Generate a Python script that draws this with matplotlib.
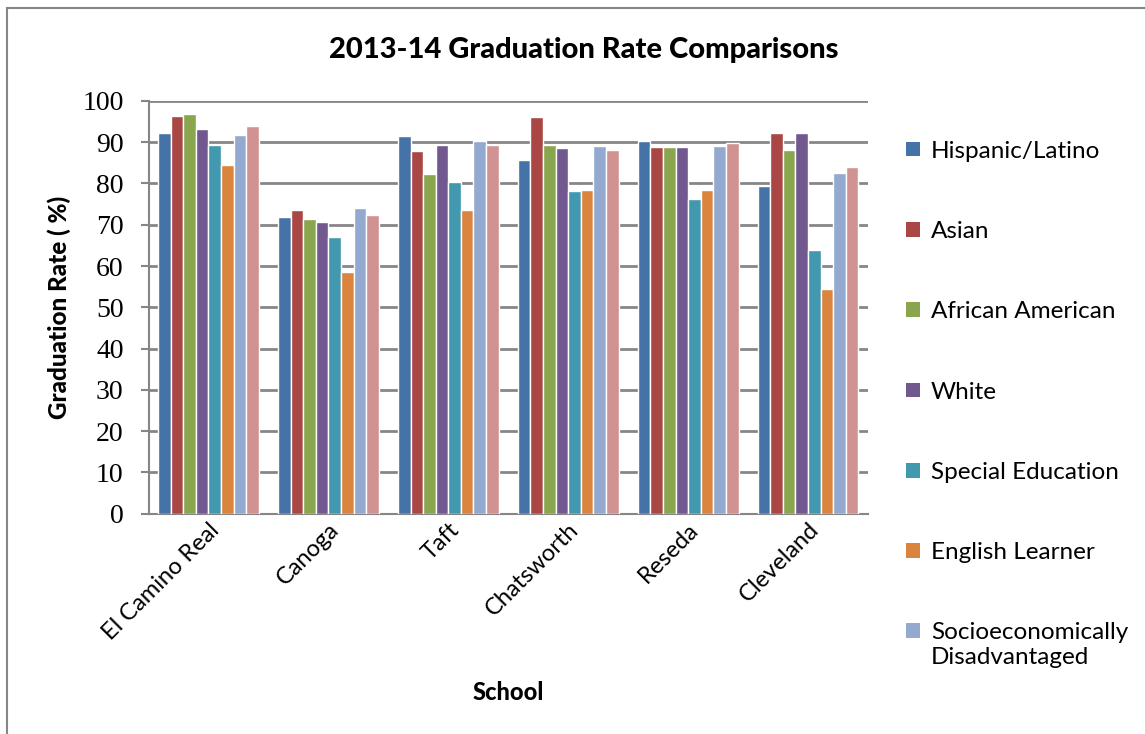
import numpy as np
import matplotlib.pyplot as plt
from matplotlib.patches import Rectangle
from matplotlib.legend_handler import HandlerPatch

# Date
schools = ['El Camino Real', 'Canoga', 'Taft', 'Chatsworth', 'Reseda', 'Cleveland']
groups = ['Hispanic/Latino', 'Asian', 'African American', 'White',
          'Special Education', 'English Learner',
          'Socioeconomically\nDisadvantaged', 'All Students']

hispanic = [92.2, 72.0, 91.6, 85.6, 90.2, 79.3]
asian = [96.3, 73.5, 87.9, 96.0, 88.8, 92.3]
african_american = [96.9, 71.3, 82.4, 89.4, 88.8, 88.0]
white = [93.3, 70.7, 89.3, 88.5, 88.9, 92.3]
special_ed = [89.4, 67.1, 80.3, 78.2, 76.2, 63.8]
english_learner = [84.5, 58.5, 73.6, 78.5, 78.5, 54.5]
socioeconomic = [91.7, 74.1, 90.3, 89.2, 89.1, 82.6]
all_students = [93.9, 72.4, 89.3, 88.2, 89.9, 84.0]

series = [hispanic, asian, african_american, white, special_ed,
          english_learner, socioeconomic, all_students]
colors = ['#4572A7', '#AA4643', '#89A54E', '#71588F',
          '#4198AF', '#DB843D', '#93A9CF', '#D19392']

fig = plt.figure(figsize=(11.45, 7.34), dpi=100)
ax = fig.add_axes([0.1297, 0.3004, 0.6284, 0.562])

# chenarul graficului
fig.patches.append(Rectangle((7 / 1145, -0.1), 1.2, 0.1 + 1 - 8 / 734,
                             transform=fig.transFigure, fill=False,
                             edgecolor='#868686', linewidth=1.5))

x = np.arange(len(schools))
w = 0.105
bars = []
for i, (vals, c) in enumerate(zip(series, colors)):
    b = ax.bar(x + (i - 3.5) * w, vals, w, color=c, edgecolor='white',
               linewidth=1.0, zorder=3)
    bars.append(b)

ax.set_xlim(-0.5, len(schools) - 0.5)
ax.set_ylim(0, 100)
ax.set_yticks(np.arange(0, 101, 10))
ax.yaxis.grid(True, color='#868686', linewidth=2, zorder=0)
ax.set_axisbelow(True)
for s in ['top', 'right']:
    ax.spines[s].set_visible(False)
ax.spines['left'].set_color('#868686')
ax.spines['bottom'].set_color('#868686')
ax.spines['left'].set_linewidth(1.5)
ax.spines['bottom'].set_linewidth(1.5)
ax.tick_params(axis='y', length=6, width=1.5, color='#868686', pad=12,
               labelsize=20)
for t in ax.get_yticklabels():
    t.set_fontfamily('Liberation Serif')
ax.tick_params(axis='x', length=0, pad=4)
ax.set_xticks(x)
ax.set_xticklabels(schools, rotation=45, ha='right', rotation_mode='anchor',
                   fontsize=17, fontfamily='Lato')

ax.set_ylabel('Graduation Rate ( %)', fontsize=17.5, fontweight='black',
              fontfamily='Lato', labelpad=8)
ax.set_xlabel('School', fontsize=17, fontweight='black', fontfamily='Lato',
              labelpad=27)
fig.text(0.51, 0.932, '2013-14 Graduation Rate Comparisons', ha='center',
         va='center', fontsize=21, fontweight='black', fontfamily='Lato')


def first_line_square(legend, orig_handle, xdescent, ydescent, width, height, fontsize):
    # patratul din legenda aliniat cu primul rand al etichetei
    return Rectangle((-xdescent, -ydescent + 0.6 * fontsize), width, height)


handles = [b.patches[0] for b in bars[:7]]
leg = ax.legend(handles, groups[:7], loc='upper left',
                bbox_to_anchor=(1.023, 0.957), frameon=False,
                prop={'family': 'Lato', 'size': 17.5}, labelspacing=2.44,
                handlelength=0.55, handleheight=0.55, handletextpad=0.45,
                handler_map={handles[6]: HandlerPatch(patch_func=first_line_square)})
for h in leg.legend_handles:
    h.set_edgecolor('none')

fig.savefig('out.png', dpi=100)
